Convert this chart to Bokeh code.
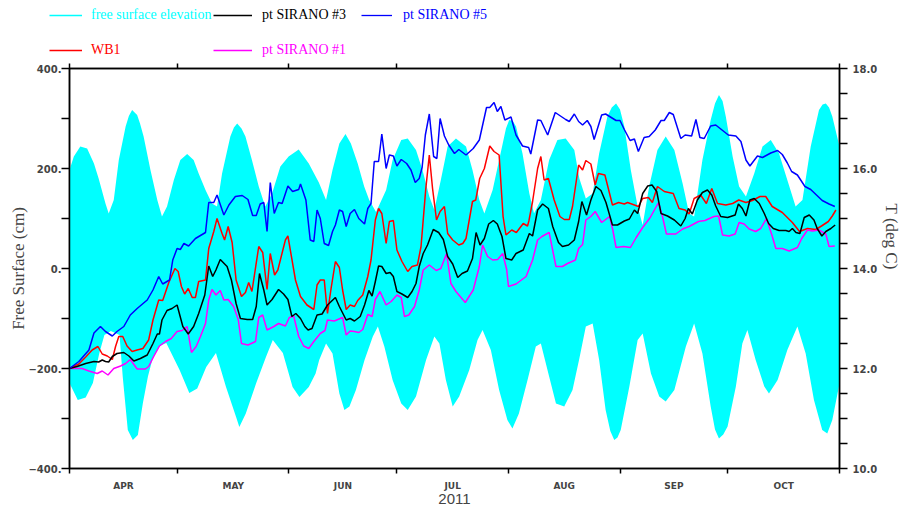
import numpy as np
import pandas as pd
from bokeh.plotting import figure
from bokeh.layouts import column, row
from bokeh.models import Range1d, LinearAxis, FixedTicker, Legend, LegendItem, NumeralTickFormatter
from bokeh.embed import file_html
from bokeh.resources import INLINE

# ---------------- data (days since 2011-04-01) ----------------
start = pd.Timestamp("2011-04-01")
month_starts = pd.date_range("2011-04-01", "2011-11-01", freq="MS")
month_labels = ["APR", "MAY", "JUN", "JUL", "AUG", "SEP", "OCT"]
year_label = "2011"

# free surface elevation envelope (cm)
fs_up_day = [0, 1.2, 3.0, 4.9, 6.8, 8.1, 10.0, 10.9, 12.3, 13.7, 15.6, 16.5, 17.4, 18.8, 19.6, 20.6, 22.5, 24.4, 25.7,
             27.1, 29.0, 30.8, 32.7, 34.5, 35.9, 37.8, 39.6, 41.0, 42.4, 44.7, 45.7, 46.6, 47.8, 48.9, 50.7, 52.6,
             54.4, 56.3, 58.6, 60.9, 63.7, 66.5, 69.3, 71.3, 73.1, 75.0, 76.7, 78.2, 80.1, 81.9, 83.3,
             85.2, 88.0, 89.8, 92.2, 94.0, 96.3, 98.1, 100.0, 101.4, 103.2, 105.1, 107.4, 110.2, 112.0,
             113.9, 115.3, 117.6, 120.4, 121.3, 122.2, 123.2, 124.1, 125.9, 127.8, 129.1, 131.0, 133.3, 135.6, 137.9,
             140.3, 141.7, 143.5, 145.4, 147.2, 149.5, 150.7, 151.9, 153.0, 154.2, 156.0, 157.9, 159.3, 161.1, 163.4,
             165.7, 168.1, 170.4, 172.2, 173.6, 175.9, 178.2, 179.4, 180.5, 181.5, 182.4, 184.3, 186.1, 188.0, 190.3,
             192.6, 194.9, 197.2, 199.5, 201.8, 203.7, 206.0, 208.3, 209.3, 210.2, 211.1, 212.0, 214.0]
fs_up = [197, 224, 244, 240, 210, 180, 130, 110, 137, 217, 284, 305, 317, 307, 290, 264, 197, 137, 104,
         124, 177, 217, 229, 217, 190, 157, 130, 124, 190, 264, 282, 290, 280, 264, 217, 164,
         124, 150, 204, 224, 238, 210, 172, 137, 197, 250, 269, 250, 210, 164, 137,
         113, 157, 217, 257, 260, 237, 197, 144, 117, 177, 244, 260, 244, 197,
         137, 110, 157, 250, 280, 297, 295, 284, 230, 150, 110, 137, 217, 257, 260,
         237, 180, 140, 150, 230, 304, 322, 330, 318, 284, 197, 124, 87, 164, 237,
         264, 237, 170, 110, 104, 217, 297, 330, 347, 335, 304, 224, 164, 144, 190,
         244, 257, 230, 177, 124, 137, 244, 317, 328, 330, 322, 304, 244]
fs_low_day = [0, 2.3, 4.5, 6.5, 8.3, 9.7, 11.5, 13.9, 14.8, 16.2, 17.6, 19.0, 20.4, 21.8, 23.1, 25.0, 26.9,
              30.6, 33.3, 35.5, 38.0, 40.7, 43.5, 46.3, 47.2, 49.0, 51.9, 54.6, 56.5, 59.3, 62.0, 63.9,
              66.5, 68.4, 69.4, 71.3, 73.1, 75.0, 76.4, 77.8, 79.6, 82.0, 84.3, 85.7, 87.5, 89.8, 92.2,
              94.0, 96.3, 99.1, 101.4, 102.8, 104.6, 106.5, 108.3, 111.1, 113.4, 114.8, 117.1, 119.4,
              121.7, 123.1, 124.9, 127.3, 129.6, 131.0, 133.3, 135.2, 137.5, 139.8, 141.7, 143.5, 145.4,
              147.2, 149.0, 150.3, 151.4, 152.3, 153.2, 155.6, 157.9, 159.3, 161.6, 163.9, 165.7, 168.1, 171.3, 173.6,
              175.9, 178.2, 179.4, 180.5, 181.7, 182.9, 185.2, 187.0, 188.4, 190.7, 193.1, 194.4, 196.8, 199.5, 202.3,
              204.6, 206.9, 209.2, 210.6, 212.0, 214.0]
fs_low = [-229, -263, -258, -229, -169, -133, -125, -133, -217, -323, -343, -333, -269, -216, -180, -155, -149,
          -203, -249, -240, -197, -169, -237, -297, -317, -290, -229, -177, -143, -169, -237, -257,
          -237, -210, -183, -150, -170, -250, -283, -276, -243, -183, -136, -116, -156, -223, -270,
          -283, -256, -183, -136, -150, -223, -276, -256, -203, -143, -123, -163, -243,
          -303, -320, -290, -223, -156, -150, -216, -270, -276, -243, -180, -116, -110,
          -183, -283, -325, -343, -338, -323, -236, -143, -130, -210, -256, -266, -243, -156, -110,
          -170, -276, -322, -340, -332, -316, -236, -150, -123, -183, -236, -250, -223, -163, -116,
          -170, -263, -323, -330, -303, -230]

# temperature (deg C)
wb1_day = [0, 2.6, 4.5, 6.3, 7.9, 9.1, 10.5, 11.9, 12.8, 13.7, 14.8, 16.0, 17.4, 18.8, 20.4, 22.0, 23.2, 24.8,
           25.9, 27.6, 29.3, 30.2, 31.1, 32.0, 33.0, 34.1, 35.0, 35.9, 37.8, 38.7, 40.1, 41.0, 42.4, 43.1,
           44.1, 45.2, 46.3, 47.8, 48.9, 49.8, 50.7, 52.6, 53.7, 54.9, 55.8, 57.0, 57.9, 60.0, 60.7, 62.8,
           64.2, 66.0, 67.9, 68.8, 69.7, 70.8, 71.7, 72.7, 73.9, 75.0, 75.9, 76.9, 78.0, 79.2, 80.1, 81.5,
           82.9, 83.8, 85.0, 85.9, 86.8, 88.0, 88.9, 90.0, 91.0, 92.4, 94.0, 95.2, 96.7, 97.7, 99.0, 100.0,
           100.9, 102.0, 103.0, 104.2, 105.1, 106.5, 108.2, 109.3, 110.2, 112.0, 112.9, 114.0, 115.3,
           116.8, 118.0, 119.4, 120.5, 121.3, 122.9, 124.2, 126.1, 127.3, 127.7, 128.7, 130.1, 131.0,
           131.9, 133.1, 134.7, 136.3, 137.5, 138.9, 139.8, 141.5, 142.6, 143.5, 144.9, 146.1, 147.0,
           148.8, 150.9, 152.6, 154.2, 155.1, 157.0, 158.1, 159.3, 160.9, 162.0, 163.4, 165.3, 167.8,
           169.4, 171.1, 172.2, 173.6, 175.4, 177.0, 178.5, 180.1, 182.4, 184.3, 186.0, 188.0, 189.8,
           191.9, 193.5, 195.3, 198.1, 200.9, 202.9, 205.1, 207.4, 209.0, 210.9, 212.0, 213.0]
wb1 = [12.00, 12.09, 12.23, 12.37, 12.44, 12.29, 12.25, 12.18, 12.44, 12.64, 12.64, 12.45, 12.34, 12.37, 12.40,
       12.57, 12.97, 13.37, 13.36, 13.72, 14.00, 13.94, 13.64, 13.49, 13.60, 13.42, 13.42, 13.74, 13.77,
       14.40, 14.74, 15.00, 14.70, 14.57, 14.84, 14.52, 13.77, 13.44, 13.52, 13.72, 13.54, 14.44, 14.32,
       13.58, 14.30, 13.87, 13.97, 14.57, 14.65, 13.77, 13.44, 13.27, 13.18, 13.67, 13.77, 13.77, 13.10,
       13.60, 14.14, 14.02, 13.57, 13.18, 13.27, 13.24, 13.36, 13.47, 13.84, 14.17, 14.97, 15.20, 15.10,
       14.50, 14.94, 14.96, 14.37, 14.14, 13.94, 14.04, 14.07, 14.44, 15.58, 16.27, 15.60, 14.97, 15.14,
       15.24, 14.70, 14.57, 14.47, 14.50, 14.60, 15.34, 15.37, 15.80, 16.00, 16.45, 16.34, 16.27, 15.04,
       14.67, 14.77, 14.72, 14.90, 14.85, 14.96, 15.34, 16.00, 16.24, 15.77, 15.80, 15.37, 15.04, 14.98,
       14.98, 15.24, 16.07, 15.97, 16.16, 16.09, 15.67, 15.90, 15.87, 15.27, 15.32, 15.29, 15.32, 15.27,
       15.24, 15.40, 15.42, 15.32, 15.64, 15.54, 15.50, 15.20, 15.17, 15.09, 15.40, 15.47, 15.30, 15.60,
       15.30, 15.27, 15.30, 15.37, 15.32, 15.36, 15.44, 15.44, 15.24, 15.12, 14.92, 14.74, 14.80, 14.78,
       14.85, 14.94, 15.05, 15.17]

s3_day = [0, 2.1, 4.5, 6.8, 8.1, 9.1, 10.0, 10.9, 11.9, 13.2, 15.1, 16.5, 17.9, 19.7, 21.6, 23.2, 24.4, 25.0,
          25.7, 27.1, 28.5, 29.9, 31.5, 33.0, 34.5, 35.9, 37.6, 38.7, 39.8, 40.7, 41.9, 43.8, 45.0, 46.3,
          47.5, 49.4, 50.9, 51.9, 52.8, 54.0, 54.9, 56.3, 58.1, 59.5, 60.7, 61.8, 62.9, 64.2, 65.4, 66.3,
          67.4, 68.8, 70.2, 71.7, 73.9, 75.0, 76.9, 78.0, 79.2, 80.8, 82.0, 83.2, 84.1, 85.0, 85.9, 86.8,
          88.0, 89.1, 90.0, 91.0, 92.4, 94.0, 95.2, 96.3, 97.2, 98.3, 99.5, 101.1, 102.6, 103.9, 105.1,
          106.5, 107.9, 109.1, 110.6, 112.0, 113.0, 114.1, 115.3, 116.5, 117.8, 118.9, 120.2, 121.3,
          122.9, 124.1, 126.1, 127.8, 128.7, 130.1, 131.5, 133.1, 134.3, 135.9, 137.0, 138.7, 140.3,
          141.5, 142.4, 143.7, 144.9, 146.3, 147.7, 149.1, 150.9, 152.3, 154.2, 155.6, 157.0, 157.9,
          159.3, 160.7, 161.9, 163.2, 164.4, 166.2, 168.1, 169.9, 171.1, 172.0, 173.1, 174.5, 175.9,
          177.3, 178.5, 179.6, 181.0, 182.9, 185.0, 185.9, 187.0, 188.0, 189.1, 190.3, 191.7, 193.1,
          194.3, 195.6, 197.2, 199.1, 200.0, 200.9, 201.9, 203.0, 204.2, 205.6, 206.9, 207.8, 209.1,
          210.2, 211.6, 212.8]
s3 = [12.00, 12.04, 12.10, 12.14, 12.13, 12.17, 12.14, 12.13, 12.24, 12.30, 12.32, 12.25, 12.15, 12.20, 12.27,
      12.50, 12.69, 12.69, 12.97, 13.16, 13.20, 13.27, 12.84, 12.69, 12.84, 13.10, 13.47, 14.05, 13.84,
      13.97, 14.18, 14.04, 13.77, 13.30, 13.00, 12.98, 12.98, 13.24, 13.90, 13.57, 13.27, 13.38, 13.58,
      13.49, 13.38, 13.04, 13.10, 13.00, 12.84, 12.77, 12.80, 13.07, 13.09, 13.27, 13.42, 13.24, 12.97,
      13.00, 12.95, 13.04, 13.27, 13.56, 13.45, 13.74, 14.05, 14.04, 13.90, 13.92, 13.84, 13.54, 13.49,
      13.42, 13.54, 13.70, 14.04, 14.30, 14.47, 14.78, 14.72, 14.58, 14.24, 14.09, 13.82, 13.90, 13.95,
      14.20, 14.72, 14.47, 14.60, 14.89, 14.96, 14.89, 14.64, 14.20, 14.17, 14.30, 14.37, 14.70, 14.65,
      15.17, 15.29, 15.20, 14.84, 14.52, 14.44, 14.47, 14.57, 14.94, 15.34, 15.07, 15.37, 15.64, 15.56,
      15.32, 14.87, 14.87, 14.95, 14.99, 15.17, 15.10, 15.50, 15.65, 15.67, 15.54, 15.10, 15.05, 14.97,
      14.85, 15.00, 15.20, 15.09, 15.37, 15.52, 15.57, 15.47, 15.25, 15.04, 15.02, 15.07, 15.29, 15.20,
      15.05, 15.37, 15.40, 15.30, 15.10, 14.90, 14.80, 14.76, 14.76, 14.74, 14.80, 14.72, 14.70, 15.02,
      15.07, 14.97, 14.80, 14.65, 14.74, 14.80, 14.87]

s5_day = [0, 2.6, 5.4, 6.8, 8.6, 10.0, 11.9, 13.2, 15.1, 16.9, 18.8, 21.6, 23.2, 24.8, 25.9, 27.8, 28.7, 29.9,
          30.8, 31.8, 33.1, 35.0, 37.8, 38.7, 40.1, 41.0, 42.9, 44.3, 46.1, 48.0, 49.6, 50.9, 51.9, 53.0,
          54.0, 54.9, 55.8, 56.9, 58.1, 59.1, 60.7, 62.0, 63.7, 64.2, 65.7, 66.9, 67.9, 68.8, 69.7, 70.8,
          72.0, 73.1, 73.9, 75.0, 75.9, 76.9, 78.0, 79.2, 80.4, 82.0, 82.9, 83.8, 84.7, 85.9, 86.8, 88.0,
          88.9, 90.0, 91.0, 92.2, 93.7, 94.9, 96.1, 97.2, 98.0, 98.9, 100.0, 101.2, 102.1, 103.0, 104.2,
          105.4, 107.0, 108.2, 110.2, 112.2, 113.9, 115.9, 116.8, 118.0, 118.9, 119.9, 121.0, 122.7,
          124.1, 125.9, 127.6, 128.2, 130.1, 131.0, 132.9, 135.0, 137.9, 138.9, 140.3, 141.5, 142.6,
          143.9, 144.9, 145.8, 147.9, 149.0, 151.9, 153.0, 154.2, 155.8, 157.0, 158.1, 159.7, 161.1,
          162.8, 164.4, 165.3, 166.7, 167.8, 169.9, 171.1, 172.9, 174.1, 175.2, 176.4, 178.2, 179.6,
          183.1, 185.2, 186.6, 188.0, 189.1, 191.2, 192.6, 194.9, 196.8, 198.1, 199.5, 200.7, 202.3,
          204.4, 206.0, 207.6, 209.2, 211.1, 212.7]
s5 = [12.00, 12.14, 12.37, 12.71, 12.84, 12.74, 12.65, 12.74, 12.84, 13.07, 13.20, 13.37, 13.57, 13.84, 13.69,
      13.77, 14.17, 14.40, 14.38, 14.50, 14.45, 14.60, 14.72, 15.32, 15.32, 15.47, 15.07, 15.27, 15.44,
      15.46, 15.38, 15.06, 15.06, 15.29, 15.32, 14.74, 15.72, 15.10, 15.32, 15.30, 15.65, 15.54, 15.58,
      15.69, 15.37, 14.57, 14.54, 15.17, 15.00, 14.50, 14.46, 14.74, 14.87, 15.17, 15.14, 14.84, 15.10,
      15.18, 15.00, 14.89, 15.20, 15.30, 16.14, 16.14, 16.69, 16.00, 16.27, 16.25, 16.05, 16.18, 16.10,
      15.97, 15.72, 15.80, 16.02, 16.67, 17.09, 16.24, 16.20, 17.00, 16.65, 16.47, 16.30, 16.38, 16.27,
      16.40, 16.57, 17.22, 17.22, 17.32, 17.14, 17.24, 16.97, 17.03, 16.67, 16.45, 16.42, 16.29, 16.97,
      16.96, 16.67, 17.12, 16.98, 16.94, 17.09, 16.94, 16.87, 16.96, 16.84, 16.58, 17.07, 17.09, 16.96,
      16.96, 16.78, 16.56, 16.59, 16.34, 16.62, 16.64, 16.77, 16.96, 16.96, 17.12, 17.08, 16.60, 16.67,
      16.65, 16.98, 16.62, 16.60, 16.85, 16.87, 16.67, 16.65, 16.54, 16.17, 16.05, 16.25, 16.22, 16.31,
      16.36, 16.28, 16.11, 15.94, 15.87, 15.64, 15.58, 15.47, 15.36, 15.29, 15.24]

s1_day = [0, 3.5, 5.4, 7.7, 9.1, 10.7, 12.3, 14.2, 15.6, 16.9, 18.8, 21.1, 22.0, 23.4, 25.0, 26.7, 28.3, 29.9,
          31.3, 32.7, 33.9, 35.2, 36.4, 37.8, 38.7, 39.6, 40.7, 41.9, 42.9, 44.1, 45.6, 46.9, 47.8, 49.6,
          51.7, 52.6, 53.7, 54.9, 56.8, 58.1, 60.0, 61.1, 62.3, 63.7, 65.1, 66.5, 67.9, 69.7, 71.0, 71.7,
          73.6, 75.9, 76.9, 78.0, 79.2, 80.4, 81.5, 82.9, 84.1, 85.0, 86.3, 88.0, 89.4, 91.0, 92.2, 93.1,
          94.3, 95.9, 97.2, 98.3, 100.0, 101.9, 103.2, 104.8, 106.0, 107.4, 110.0, 112.2, 113.9, 114.8,
          116.2, 117.6, 119.0, 120.4, 121.5, 122.0, 124.1, 126.9, 128.7, 130.1, 131.3, 133.3, 135.2,
          137.0, 138.4, 140.6, 141.5, 142.6, 143.5, 144.9, 146.1, 147.9, 150.1, 151.0, 151.9, 154.0,
          155.9, 157.5, 159.3, 161.4, 163.7, 164.8, 165.9, 168.5, 170.4, 172.2, 174.8, 176.6, 179.1,
          180.4, 181.5, 183.3, 185.0, 186.1, 187.5, 188.9, 190.7, 192.1, 193.7, 195.2, 196.3, 198.1,
          200.0, 202.3, 203.5, 205.1, 206.5, 208.3, 210.2, 211.1, 212.7]
s1 = [12.00, 12.00, 11.95, 11.90, 11.95, 11.87, 12.00, 12.05, 12.10, 12.18, 11.99, 11.99, 12.04, 12.24, 12.45,
      12.54, 12.60, 12.74, 12.76, 12.84, 12.32, 12.44, 12.64, 12.90, 13.37, 13.58, 13.47, 13.56, 13.37,
      13.38, 13.24, 12.98, 12.50, 12.47, 12.54, 13.02, 13.07, 12.77, 12.84, 12.90, 12.85, 13.02, 13.05,
      12.64, 12.45, 12.40, 12.54, 12.70, 12.76, 12.97, 12.95, 13.02, 12.67, 12.75, 12.74, 12.72, 12.78,
      13.08, 13.04, 13.38, 13.54, 13.27, 13.34, 13.47, 13.42, 13.04, 13.07, 13.24, 13.57, 13.97, 14.07,
      13.96, 14.00, 14.30, 13.70, 13.54, 13.32, 13.57, 14.04, 14.47, 14.24, 14.17, 14.18, 14.30, 13.98,
      13.64, 13.69, 13.84, 14.17, 14.57, 14.64, 14.72, 14.04, 14.04, 14.10, 14.17, 14.40, 14.48, 14.97,
      15.04, 15.14, 14.92, 15.04, 14.77, 14.42, 14.44, 14.42, 14.62, 14.82, 15.02, 15.32, 15.04, 14.69,
      14.69, 14.79, 14.84, 14.94, 14.96, 15.04, 15.05, 14.67, 14.65, 14.69, 14.92, 14.89, 14.79, 14.74,
      14.80, 15.00, 14.67, 14.40, 14.40, 14.35, 14.42, 14.60, 14.77, 14.75, 14.77, 14.69, 14.44, 14.45]

fs_ticks_major = [-400, -200, 0, 200, 400]
fs_ticks_minor = [-300, -100, 100, 300]
t_ticks_major = [10, 12, 14, 16, 18]
t_ticks_minor = [10.5, 11, 11.5, 12.5, 13, 13.5, 14.5, 15, 15.5, 16.5, 17, 17.5]

CYAN, BLACK, BLUE, RED, MAG = "#00FFFF", "#000000", "#0000FF", "#FF0000", "#FF00FF"
series_names = ["free surface elevation", "pt SIRANO #3", "pt SIRANO #5", "WB1", "pt SIRANO #1"]
series_colors = [CYAN, BLACK, BLUE, RED, MAG]

# ---------------- layout sizes ----------------
W = 904
LH = 60            # legend strip height
H = 446            # main plot height
FL, FR, FT, FB = 69, 64, 8, 37

month_days = [(d - start).days for d in month_starts]
mid_days = [(a + b) / 2 for a, b in zip(month_days[:-1], month_days[1:])]

# ---------------- legend strip ----------------
leg = figure(width=W, height=LH, output_backend="svg", toolbar_location=None, title=None,
             x_range=Range1d(0, 1), y_range=Range1d(0, 1), x_axis_location=None, y_axis_location=None,
             min_border=0, min_border_left=0, min_border_right=0, min_border_top=0, min_border_bottom=0)
leg.outline_line_color = None
leg.grid.visible = False
nan = float("nan")
dummies = [leg.line(x=[nan], y=[nan], line_color=c, line_width=1.3) for c in series_colors]

col_x = [49, 213, 361, 49, 213]
col_gw = [33, 39, 31, 33, 39]
col_so = [9, 10, 11, 9, 10]
row_y = [37, 37, 37, 2, 2]
for name, color, r, lx, ly, gw, so in zip(series_names, series_colors, dummies, col_x, row_y, col_gw, col_so):
    lg = Legend(items=[LegendItem(label=name, renderers=[r])], location=(lx, ly),
                label_text_color=color, label_text_font="Liberation Serif", label_text_font_size="14px",
                glyph_width=gw, glyph_height=16, label_height=16, label_standoff=so,
                padding=0, margin=0, spacing=0, border_line_color=None, background_fill_alpha=0)
    leg.add_layout(lg, "center")

# ---------------- main plot ----------------
p = figure(width=W, height=H, output_backend="svg", toolbar_location=None, title=None,
           x_range=Range1d(month_days[0], month_days[-1]), y_range=Range1d(-400, 400),
           min_border_left=FL, min_border_right=FR, min_border_top=FT, min_border_bottom=FB)
p.extra_y_ranges = {"T": Range1d(10, 18)}
p.xgrid.visible = False
p.ygrid.visible = False
p.outline_line_color = "black"
p.outline_line_width = 1.5

px = list(fs_up_day) + list(fs_low_day[::-1])
py = list(fs_up) + list(fs_low[::-1])
p.patch(px, py, fill_color=CYAN, line_color=None)

lw = 1.5
p.line(wb1_day, wb1, line_color=RED, line_width=lw, y_range_name="T")
p.line(s1_day, s1, line_color=MAG, line_width=lw, y_range_name="T")
p.line(s3_day, s3, line_color=BLACK, line_width=lw, y_range_name="T")
p.line(s5_day, s5, line_color=BLUE, line_width=lw, y_range_name="T")

tick_font = "DejaVu Sans"

xa = p.xaxis[0]
xa.ticker = FixedTicker(ticks=mid_days, minor_ticks=month_days)
xa.major_label_overrides = {m: lab for m, lab in zip(mid_days, month_labels)}
xa.major_tick_out = 0
xa.major_tick_in = 0
xa.minor_tick_out = 5
xa.minor_tick_in = 0
xa.minor_tick_line_width = 1.5
xa.axis_line_width = 1.5
xa.major_label_standoff = 7
xa.major_label_text_font = tick_font
xa.major_label_text_font_style = "bold"
xa.major_label_text_font_size = "9px"
xa.axis_label = year_label
xa.axis_label_text_font = "Liberation Sans"
xa.axis_label_text_font_style = "normal"
xa.axis_label_text_font_size = "15px"
xa.axis_label_standoff = 0

top = LinearAxis(ticker=FixedTicker(ticks=month_days))
top.major_label_overrides = {d: "" for d in month_days}
top.major_label_text_font_size = "0px"
top.major_label_standoff = 0
top.major_tick_out = 5
top.major_tick_in = 0
top.minor_tick_out = 0
top.minor_tick_in = 0
top.major_tick_line_width = 1.5
top.axis_line_width = 1.5
p.add_layout(top, "above")

ya = p.yaxis[0]
ya.ticker = FixedTicker(ticks=fs_ticks_major, minor_ticks=fs_ticks_minor)
ya.major_label_overrides = {v: (f"{v}.".replace("-", "\u2212")) for v in fs_ticks_major}
ya.major_tick_out = 8
ya.major_tick_in = 0
ya.minor_tick_out = 8
ya.minor_tick_in = 0
ya.major_tick_line_width = 1.5
ya.minor_tick_line_width = 1.5
ya.axis_line_width = 1.5
ya.major_label_standoff = 0
ya.major_label_text_font = tick_font
ya.major_label_text_font_style = "bold"
ya.major_label_text_font_size = "10px"
ya.axis_label = "Free Surface (cm)"
ya.axis_label_text_font = "Liberation Serif"
ya.axis_label_text_font_style = "normal"
ya.axis_label_text_font_size = "17px"
ya.axis_label_standoff = -3

ra = LinearAxis(y_range_name="T", ticker=FixedTicker(ticks=t_ticks_major, minor_ticks=t_ticks_minor),
                formatter=NumeralTickFormatter(format="0.0"))
ra.major_tick_out = 8
ra.major_tick_in = 0
ra.minor_tick_out = 8
ra.minor_tick_in = 0
ra.major_tick_line_width = 1.5
ra.minor_tick_line_width = 1.5
ra.axis_line_width = 1.5
ra.major_label_standoff = 5
ra.major_label_text_font = tick_font
ra.major_label_text_font_style = "bold"
ra.major_label_text_font_size = "10px"
# trailing no-break spaces lift the visible title above the axis centre, as in the original
ra.axis_label = "T (deg C)" + "\u00a0" * 15
ra.axis_label_text_font = "Liberation Serif"
ra.axis_label_text_font_style = "normal"
ra.axis_label_text_font_size = "17px"
ra.axis_label_standoff = 2
p.add_layout(ra, "right")

layout = column(row(leg), p, spacing=0)
open("out.html", "w").write(file_html(layout, INLINE))
